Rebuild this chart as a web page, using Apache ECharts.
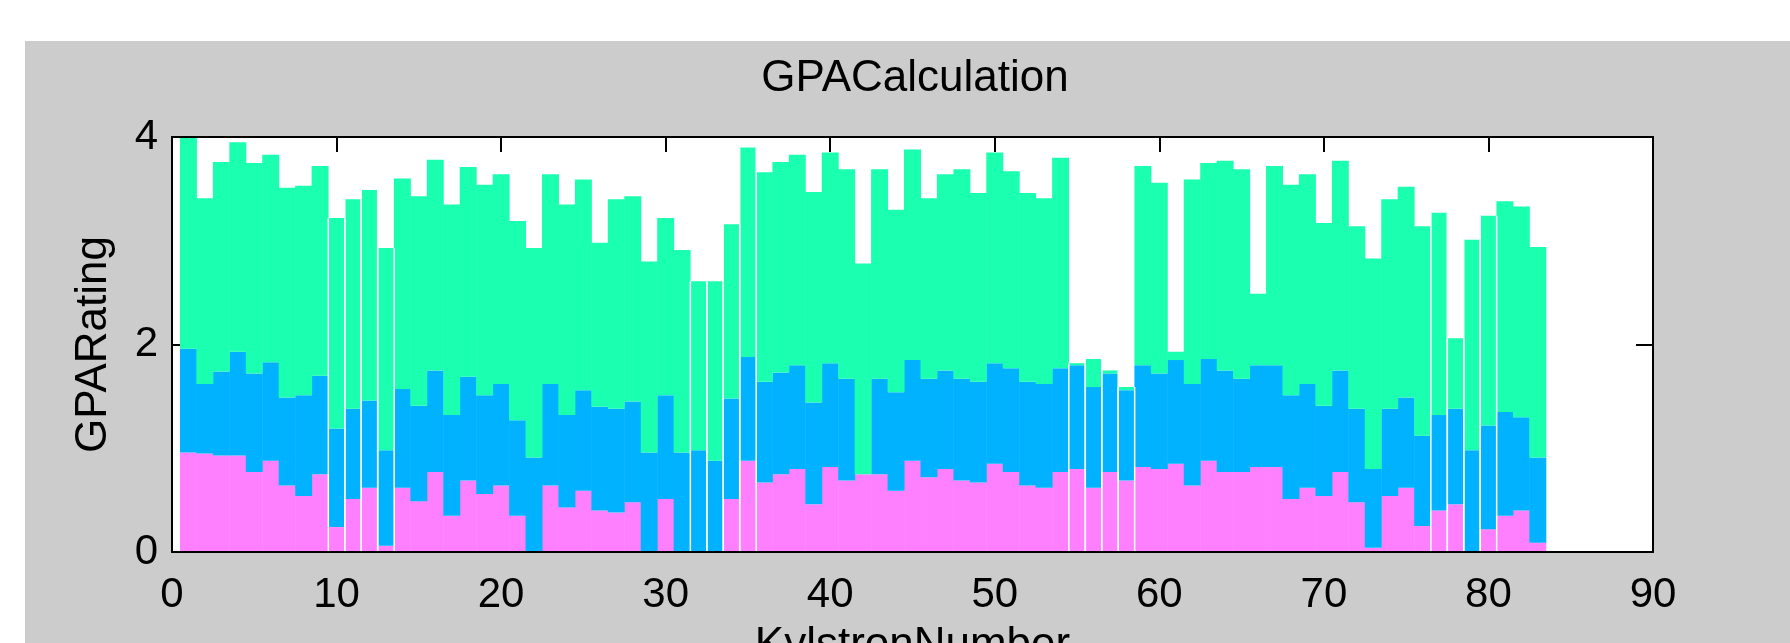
<!DOCTYPE html>
<html>
<head>
<meta charset="utf-8">
<script src="https://cdn.jsdelivr.net/npm/echarts@6/dist/echarts.min.js"></script>
<style>
  html, body { margin: 0; padding: 0; background: #ffffff; overflow: hidden; }
  #bg { position: absolute; left: 25px; top: 41px; width: 1765px; height: 602px; background: #cccccc; }
  #chart { position: absolute; left: 0; top: 0; width: 1790px; height: 643px; }
</style>
</head>
<body>
<div id="bg"></div>
<div id="chart"></div>
<script>
// Kylstron numbers (x positions of the bars)
const kylstron = [1,2,3,4,5,6,7,8,9,10,11,12,13,14,15,16,17,18,19,20,
  21,22,23,24,25,26,27,28,29,30,31,32,33,34,35,36,37,38,39,40,
  41,42,43,44,45,46,47,48,49,50,51,52,53,54,55,56,57,58,59,60,
  61,62,63,64,65,66,67,68,69,70,71,72,73,74,75,76,77,78,79,80,
  81,82,83];

// Bottom segment (pink)
const pink = [0.96,0.95,0.93,0.93,0.77,0.88,0.64,0.54,0.75,0.24,
  0.51,0.62,0.06,0.62,0.49,0.77,0.35,0.69,0.56,0.64,
  0.35,0,0.64,0.43,0.59,0.40,0.38,0.48,0,0.51,
  0,0,0,0.51,0.88,0.67,0.75,0.80,0.46,0.82,
  0.69,0.75,0.75,0.59,0.88,0.72,0.80,0.69,0.67,0.85,
  0.77,0.64,0.62,0.77,0.80,0.62,0.77,0.69,0.82,0.80,
  0.85,0.64,0.88,0.77,0.77,0.82,0.82,0.51,0.62,0.54,
  0.77,0.48,0.04,0.54,0.62,0.25,0.40,0.46,0,0.22,
  0.35,0.40,0.09];

// Middle segment (blue)
const blue = [1.00,0.67,0.81,1.00,0.95,0.95,0.85,0.97,0.95,0.95,
  0.87,0.84,0.92,0.95,0.92,0.98,0.97,1.00,0.95,0.98,
  0.92,0.91,0.98,0.89,0.97,1.00,1.00,0.97,0.96,1.00,
  0.96,0.98,0.88,0.97,1.00,0.97,0.98,1.00,0.98,1.00,
  0.98,0,0.92,0.95,0.97,0.95,0.95,0.98,0.97,0.97,
  1.00,1.00,1.00,1.00,1.00,0.97,0.95,0.87,0.98,0.92,
  1.00,0.98,0.98,0.98,0.90,0.98,0.98,1.00,1.00,0.87,
  0.98,0.90,0.76,0.84,0.87,0.87,0.92,0.92,0.98,1.00,
  1.00,0.90,0.82];

// Top segment (green)
const green = [2.03,1.79,2.02,2.02,2.03,2.00,2.02,2.02,2.02,2.03,
  2.02,2.03,1.95,2.03,2.02,2.03,2.03,2.02,2.03,2.02,
  1.92,2.02,2.02,2.03,2.03,1.58,2.02,1.98,1.84,1.71,
  1.95,1.63,1.73,1.68,2.02,2.02,2.03,2.03,2.03,2.03,
  2.02,2.03,2.02,1.76,2.03,1.74,1.89,2.02,1.82,2.03,
  1.90,1.82,1.79,2.03,0.02,0.27,0.03,0.03,1.92,1.84,
  0.08,1.97,1.89,2.02,2.02,0.69,1.92,2.03,2.02,1.76,
  2.02,1.76,2.03,2.02,2.03,2.02,1.95,0.68,2.03,2.02,
  2.03,2.03,2.03];

// Kylstrons whose bars are outlined by thin white edges
const outlinedBars = [10,11,12,13,32,33,34,35,55,56,57,58,77,78,79,80];

// Axis ranges / ticks
const xMin = 0, xMax = 90, xStep = 10;
const yMin = 0, yMax = 4, yStep = 2;

const FONT = "'Liberation Sans', Arial, Helvetica, sans-serif";
const chart = echarts.init(document.getElementById('chart'), null, { renderer: 'canvas' });

// category axis 0..90 so bars are centred on integer kylstron numbers
const xCategories = [];
for (let v = xMin; v <= xMax; v++) xCategories.push(String(v));
function onAxis(arr) {
  return xCategories.map(c => {
    const i = kylstron.indexOf(Number(c));
    return i < 0 ? null : arr[i];
  });
}
const outlineData = outlinedBars.map(k => {
  const i = kylstron.indexOf(k);
  return [String(k), pink[i] + blue[i] + green[i]];
});

const axisLineStyle = { show: true, onZero: false, lineStyle: { color: '#000', width: 2 } };
const tickInterval = xStep - 1;

chart.setOption({
  backgroundColor: 'transparent',
  animation: false,
  title: {
    text: 'GPACalculation',
    left: 910, top: 52, textAlign: 'center',
    textStyle: { fontFamily: FONT, fontSize: 44, fontWeight: 'normal', color: '#000' }
  },
  grid: {
    left: 172, right: 137, top: 137, bottom: 91,
    outerBoundsMode: 'none', containLabel: false,
    show: true, backgroundColor: '#ffffff', borderWidth: 0
  },
  xAxis: [
    {
      type: 'category', data: xCategories, boundaryGap: false, position: 'bottom',
      z: 10,
      name: 'KylstronNumber', nameLocation: 'middle', nameGap: 72,
      nameTextStyle: { fontFamily: FONT, fontSize: 44, color: '#000' },
      axisLine: axisLineStyle,
      axisTick: { show: false },
      axisLabel: { fontFamily: FONT, fontSize: 42, color: '#000', margin: 22, interval: tickInterval },
      splitLine: { show: false }
    },
    {
      type: 'category', data: xCategories, boundaryGap: false, position: 'top',
      z: 10,
      axisLine: axisLineStyle,
      axisTick: { show: true, inside: true, length: 15, interval: tickInterval, lineStyle: { color: '#000', width: 2 } },
      axisLabel: { show: false },
      splitLine: { show: false }
    }
  ],
  yAxis: [
    {
      type: 'value', position: 'left', min: yMin, max: yMax, interval: yStep,
      z: 10,
      name: 'GPARating', nameLocation: 'middle', nameGap: 56, nameRotate: 90,
      nameTextStyle: { fontFamily: FONT, fontSize: 44, color: '#000' },
      axisLine: axisLineStyle,
      axisTick: { show: true, inside: true, length: 8, lineStyle: { color: '#000', width: 2 } },
      axisLabel: { fontFamily: FONT, fontSize: 42, color: '#000', margin: 14 },
      splitLine: { show: false }
    },
    {
      type: 'value', position: 'right', min: yMin, max: yMax, interval: yStep,
      z: 10,
      axisLine: axisLineStyle,
      axisTick: { show: true, inside: true, length: 17, lineStyle: { color: '#000', width: 2 } },
      axisLabel: { show: false },
      splitLine: { show: false }
    }
  ],
  series: [
    { name: 'pink', type: 'bar', stack: 'gpa', xAxisIndex: 0, yAxisIndex: 0, barWidth: '103%',
      itemStyle: { color: '#FF80FF' }, data: onAxis(pink) },
    { name: 'blue', type: 'bar', stack: 'gpa', xAxisIndex: 0, yAxisIndex: 0, barWidth: '103%',
      itemStyle: { color: '#00B2FF' }, data: onAxis(blue) },
    { name: 'green', type: 'bar', stack: 'gpa', xAxisIndex: 0, yAxisIndex: 0, barWidth: '103%',
      itemStyle: { color: '#1AFFB0' }, data: onAxis(green) },
    {
      name: 'edges', type: 'custom', xAxisIndex: 0, yAxisIndex: 0, z: 5,
      encode: { x: 0, y: 1 },
      data: outlineData,
      renderItem: function (params, api) {
        const top = api.coord([api.value(0), api.value(1)]);
        const base = api.coord([api.value(0), 0]);
        const half = api.size([1, 0])[0] / 2;
        const st = { stroke: '#ffffff', lineWidth: 1.5 };
        return {
          type: 'group',
          children: [
            { type: 'line', shape: { x1: base[0] - half, y1: base[1], x2: base[0] - half, y2: top[1] }, style: st },
            { type: 'line', shape: { x1: base[0] + half, y1: base[1], x2: base[0] + half, y2: top[1] }, style: st }
          ]
        };
      }
    }
  ]
});
</script>
</body>
</html>
